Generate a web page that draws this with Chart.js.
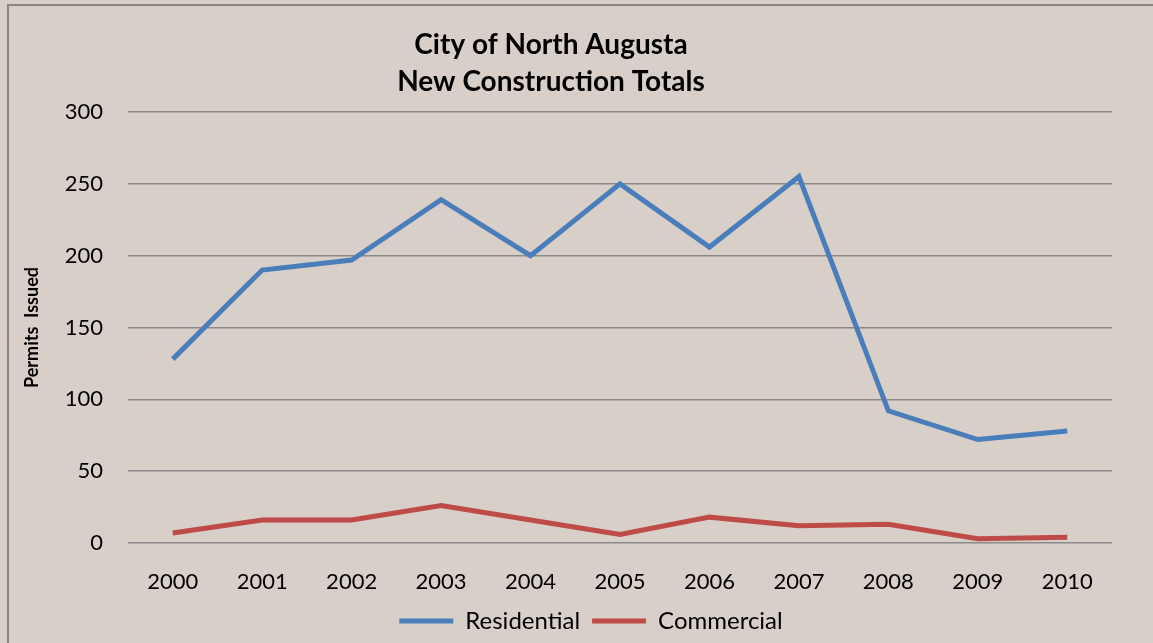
<!DOCTYPE html>
<html>
<head>
<meta charset="utf-8">
<script src="https://cdn.jsdelivr.net/npm/chart.js@4.4.1/dist/chart.umd.min.js"></script>
<style>
  html, body { margin: 0; padding: 0; background: #d8cfc9; }
  #wrap { position: relative; width: 1153px; height: 643px; }
  #frame { position: absolute; left: 7px; top: 4px; width: 1160px; height: 660px;
           border: 2px solid #858585; box-sizing: border-box; pointer-events: none; }
</style>
</head>
<body>
<div id="wrap">
  <canvas id="chart" width="1153" height="643"></canvas>
  <div id="frame"></div>
</div>
<script>
const years = ['2000', '2001', '2002', '2003', '2004', '2005', '2006', '2007', '2008', '2009', '2010'];
const residential = [128, 190, 197, 239, 200, 250, 206, 255, 92, 72, 78];
const commercial = [7, 16, 16, 26, 16, 6, 18, 12, 13, 3, 4];
const titleLines = ['City of North Augusta', 'New Construction Totals'];
const yTicks = [0, 50, 100, 150, 200, 250, 300];

const fontFamily = 'Lato, "Open Sans", sans-serif';

// title drawn a bit left of the plot center, like the original
const titlePlugin = {
  id: 'twoLineTitle',
  afterLayout(chart) {
    // nudge legend so it sits centred under the plot a bit right of the canvas centre
    if (chart.legend) chart.legend.left = 70;
  },
  afterDraw(chart) {
    const ctx = chart.ctx;
    ctx.save();
    ctx.fillStyle = '#000';
    ctx.font = 'bold 28px ' + fontFamily;
    ctx.textAlign = 'center';
    ctx.textBaseline = 'middle';
    titleLines.forEach((line, i) => ctx.fillText(line, 551, 45 + i * 37));
    ctx.restore();
  }
};

new Chart(document.getElementById('chart'), {
  type: 'line',
  data: {
    labels: years,
    datasets: [{
      label: 'Residential',
      data: residential,
      borderColor: '#4a7ebb',
      backgroundColor: '#4a7ebb',
      borderWidth: 5,
      pointRadius: 0,
      tension: 0,
      pointStyle: 'line'
    }, {
      label: 'Commercial',
      data: commercial,
      borderColor: '#be4b48',
      backgroundColor: '#be4b48',
      borderWidth: 5,
      pointRadius: 0,
      tension: 0,
      pointStyle: 'line'
    }]
  },
  options: {
    responsive: false,
    animation: false,
    layout: { padding: { top: 112, right: 41, left: 0, bottom: 0 } },
    plugins: {
      title: { display: false },
      tooltip: { enabled: false },
      legend: {
        display: true,
        position: 'bottom',
        labels: {
          usePointStyle: true,
          pointStyleWidth: 54,
          color: '#000',
          padding: 12,
          font: { size: 24, family: fontFamily }
        }
      }
    },
    scales: {
      x: {
        offset: true,
        grid: { display: false },
        border: { display: false },
        ticks: { color: '#000', padding: 18, maxRotation: 0, font: { size: 22, family: fontFamily } },
        afterFit: (scale) => { scale.height = 54; }
      },
      y: {
        min: 0,
        max: 300,
        afterBuildTicks: (scale) => { scale.ticks = yTicks.map(v => ({ value: v })); },
        grid: { color: '#8a8a8a', lineWidth: 1.5, drawTicks: false },
        border: { display: false },
        ticks: { color: '#000', padding: 25, font: { size: 22, family: fontFamily } },
        title: {
          display: true,
          text: 'Permits  Issued',
          color: '#000',
          padding: { top: 21, bottom: 0 },
          font: { size: 18, weight: 'bold', family: fontFamily }
        },
        afterFit: (scale) => { scale.width = 128; }
      }
    }
  },
  plugins: [titlePlugin]
});
</script>
</body>
</html>
